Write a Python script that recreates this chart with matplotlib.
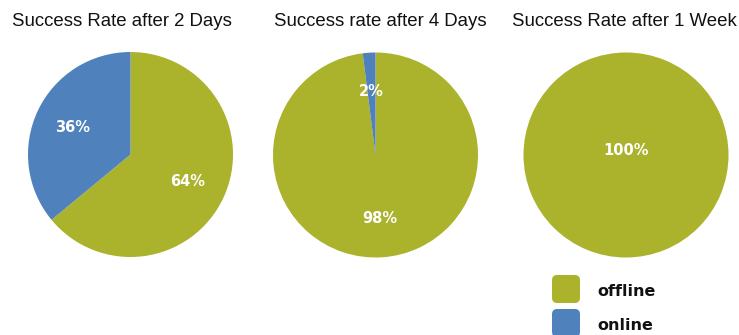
import numpy as np
import matplotlib
matplotlib.use("Agg")
import matplotlib.pyplot as plt
from matplotlib.patches import FancyBboxPatch

# data per time window: share of offline / online successes (%)
titles = ["Success Rate after 2 Days", "Success rate after 4 Days", "Success Rate after 1 Week"]
categories = ["offline", "online"]
offline_pct = [64, 98, 100]
online_pct = [36, 2, 0]

colors = ["#abb22c", "#4f81bd"]
W, H = 739, 335

fig = plt.figure(figsize=(W / 100, H / 100), dpi=100)

# pie centres and radius in pixels
centers = [(130.5, 154.5), (375.5, 155), (626, 155)]
radius = 102.5
title_x = [122, 380, 624]

for i in range(3):
    cx, cy = centers[i]
    ax = fig.add_axes([(cx - radius) / W, (H - cy - radius) / H,
                       2 * radius / W, 2 * radius / H])
    vals = [offline_pct[i], online_pct[i]]
    wedges, _ = ax.pie(vals, colors=colors, startangle=90, counterclock=False,
                       radius=1, wedgeprops=dict(linewidth=0))
    ax.set_xlim(-1, 1)
    ax.set_ylim(-1, 1)
    ax.set_aspect("equal")
    ax.axis("off")

    for w, v in zip(wedges, vals):
        if v <= 0:
            continue
        if v >= 100:
            x, y = 0, 0.04
        else:
            ang = np.deg2rad((w.theta1 + w.theta2) / 2)
            x, y = 0.62 * np.cos(ang), 0.62 * np.sin(ang)
        ax.text(x, y, f"{v}%", ha="center", va="center", color="white",
                fontsize=10.5, fontweight="bold", family="DejaVu Sans")

    fig.text(title_x[i] / W, 1 - 21 / H, titles[i], ha="center", va="center",
             fontsize=13.4, family="Liberation Sans", color="#111111")

# legend with rounded squares
box_y = [275, 309]
for j, name in enumerate(categories):
    sq = FancyBboxPatch((552 / W, (H - box_y[j] - 28) / H), 28 / W, 28 / H,
                        boxstyle="round,pad=0,rounding_size=0.007",
                        transform=fig.transFigure, facecolor=colors[j],
                        edgecolor="none", mutation_aspect=W / H)
    fig.patches.append(sq)
    fig.text(597 / W, 1 - (box_y[j] + 16) / H, name, ha="left", va="center",
             fontsize=11.5, fontweight="bold", family="DejaVu Sans", color="#111111")

fig.savefig("out.png", dpi=100, facecolor="white")
